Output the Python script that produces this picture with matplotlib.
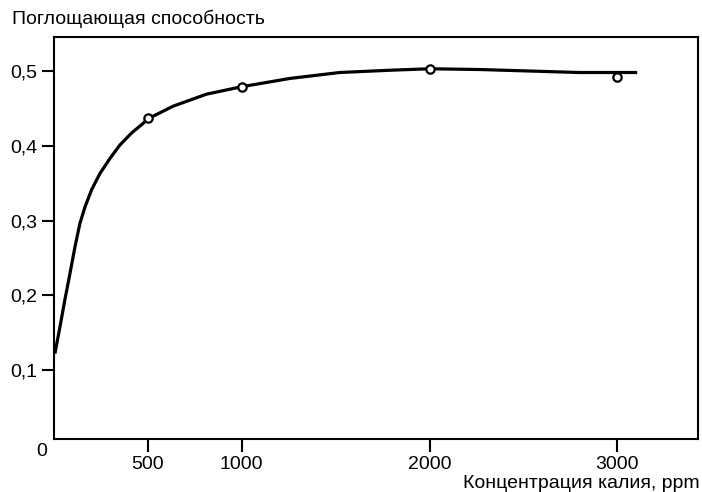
import matplotlib
matplotlib.use("Agg")
import matplotlib.pyplot as plt

# smooth curve
curve_x = [5, 32, 58, 85, 112, 138, 165, 200, 245, 298, 351, 413, 475, 500,
           635, 812, 1000, 1255, 1521, 1787, 2000, 2266, 2532, 2798, 3106]
curve_y = [0.122, 0.158, 0.194, 0.229, 0.265, 0.296, 0.318, 0.341, 0.363, 0.383, 0.401, 0.417, 0.430, 0.436,
           0.453, 0.469, 0.479, 0.490, 0.498, 0.501, 0.503, 0.502, 0.500, 0.498, 0.498]

# measured points
points_x = [500, 1000, 2000, 3000]
points_y = [0.437, 0.479, 0.503, 0.492]

x_ticks = [500, 1000, 2000, 3000]
y_ticks = [0.1, 0.2, 0.3, 0.4, 0.5]
y_tick_labels = ["0,1", "0,2", "0,3", "0,4", "0,5"]

plt.rcParams['font.family'] = ['Liberation Sans', 'DejaVu Sans']
plt.rcParams['font.size'] = 14

fig = plt.figure(figsize=(7.02, 4.92), dpi=100)
ax = fig.add_axes([0.0769, 0.1077, 0.9174, 0.8171])

ax.plot(curve_x, curve_y, color='black', linewidth=2.3, solid_capstyle='butt', solid_joinstyle='round')
ax.plot(points_x, points_y, linestyle='none', marker='o', markersize=6,
        markerfacecolor='white', markeredgecolor='black', markeredgewidth=1.6)

ax.set_xlim(0, 3430)
ax.set_ylim(0.0077, 0.5455)

ax.set_xticks(x_ticks)
ax.set_xticklabels([str(t) for t in x_ticks])
ax.set_yticks(y_ticks)
ax.set_yticklabels(y_tick_labels)

ax.tick_params(axis='both', direction='out', length=9, width=1.5, colors='black', pad=3)
for s in ax.spines.values():
    s.set_linewidth(1.5)

ax.text(-0.011, -0.03, "0", transform=ax.transAxes, ha='right', va='center')

fig.text(12 / 702, 1 - 19 / 492, "Поглощающая способность", ha='left', va='center')
fig.text(700 / 702, 1 - 484 / 492, "Концентрация калия, ppm", ha='right', va='center')

fig.savefig("out.png", dpi=100)
